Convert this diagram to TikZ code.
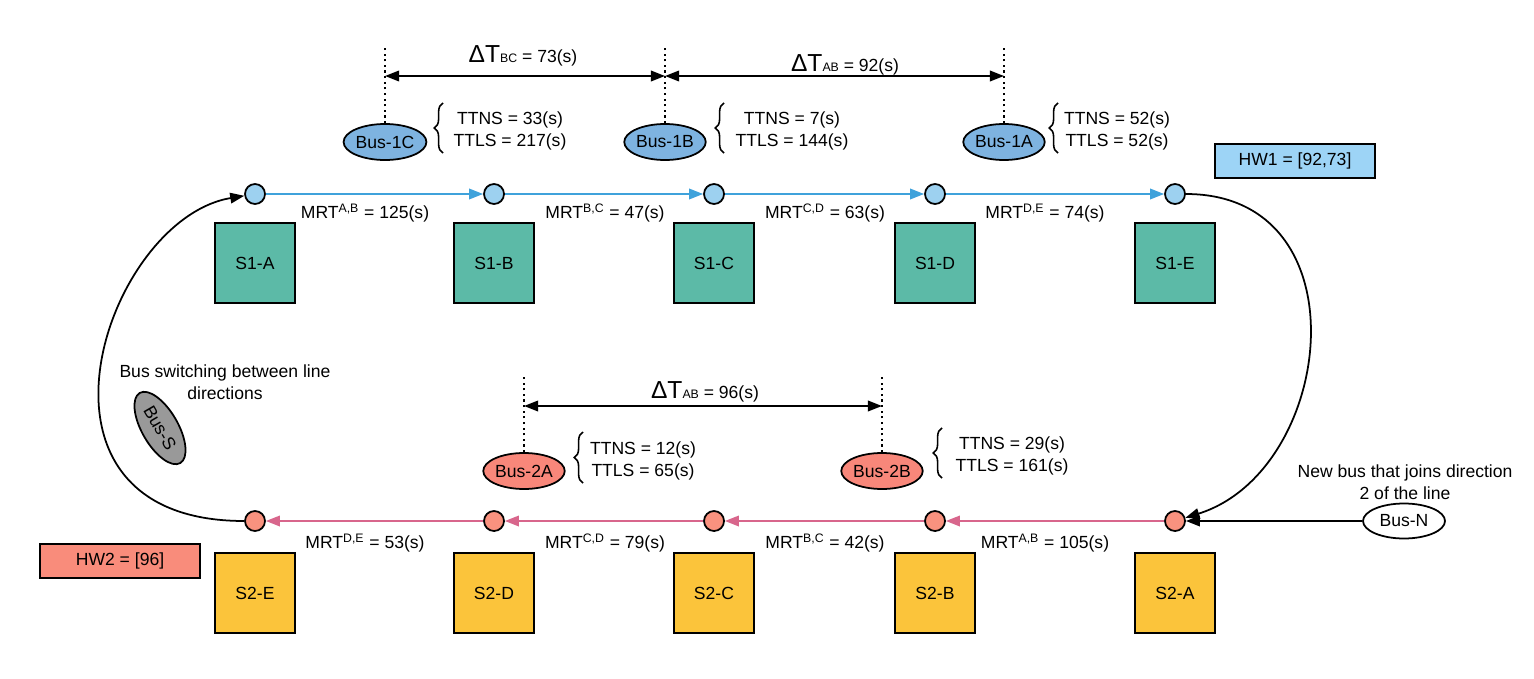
\documentclass[tikz,border=0pt]{standalone}
\usepackage{fontspec}
\setmainfont{Liberation Sans}
\usetikzlibrary{arrows.meta,shapes.geometric,decorations.pathreplacing,positioning}
\definecolor{stopblue}{HTML}{9DD1F0}
\definecolor{lineblue}{HTML}{3FA2DB}
\definecolor{busblue}{HTML}{7EB3E0}
\definecolor{hwblue}{HTML}{9DD4F6}
\definecolor{stationgreen}{HTML}{5CBAA7}
\definecolor{stationyellow}{HTML}{FBC43B}
\definecolor{stopred}{HTML}{F9927F}
\definecolor{linepink}{HTML}{D8668C}
\definecolor{busred}{HTML}{F8877A}
\definecolor{hwred}{HTML}{F98C7B}
\definecolor{busgray}{HTML}{999999}
\begin{document}
\begin{tikzpicture}[x=0.02cm, y=-0.02cm, >={Triangle[length=8pt,width=6pt]},
	every node/.style={font=\fontsize{10}{12.5}\selectfont},
	stopdot/.style={circle, draw, line width=1pt, minimum size=0.4cm, inner sep=0pt},
	stationbox/.style={draw, line width=1.1pt, minimum size=1.6cm, inner sep=0pt},
	busoval/.style={ellipse, draw, line width=1pt, minimum width=1.6cm, minimum height=0.72cm, inner sep=0pt},
	hwbox/.style={draw, line width=1.1pt, minimum width=3.2cm, minimum height=0.68cm, inner sep=0pt},
	gapline/.style={<->, line width=1pt},
	markline/.style={dotted, line width=1.2pt},
	infobrace/.style={decorate, decoration={brace, amplitude=5pt}, line width=0.9pt}]
	\useasboundingbox (0,0) rectangle (1534,679);
	% direction 1
	\node[stopdot, fill=stopblue] (t1A) at (255,194) {};
	\node[stopdot, fill=stopblue] (t1B) at (494,194) {};
	\node[stopdot, fill=stopblue] (t1C) at (714,194) {};
	\node[stopdot, fill=stopblue] (t1D) at (935,194) {};
	\node[stopdot, fill=stopblue] (t1E) at (1175,194) {};
	\draw[->, lineblue, line width=1pt] (t1A) -- (t1B);
	\draw[->, lineblue, line width=1pt] (t1B) -- (t1C);
	\draw[->, lineblue, line width=1pt] (t1C) -- (t1D);
	\draw[->, lineblue, line width=1pt] (t1D) -- (t1E);
	\node (mrt1AB) at (365,213) {MRT\textsuperscript{A,B} = 125(s)};
	\node (mrt1BC) at (605,213) {MRT\textsuperscript{B,C} = 47(s)};
	\node (mrt1CD) at (825,213) {MRT\textsuperscript{C,D} = 63(s)};
	\node (mrt1DE) at (1045,213) {MRT\textsuperscript{D,E} = 74(s)};
	\node[stationbox, fill=stationgreen] (s1A) at (255,263) {S1-A};
	\node[stationbox, fill=stationgreen] (s1B) at (494,263) {S1-B};
	\node[stationbox, fill=stationgreen] (s1C) at (714,263) {S1-C};
	\node[stationbox, fill=stationgreen] (s1D) at (935,263) {S1-D};
	\node[stationbox, fill=stationgreen] (s1E) at (1175,263) {S1-E};
	\node[hwbox, fill=hwblue] (hw1) at (1295,161) {HW1 = [92,73]};
	\node[busoval, fill=busblue] (bus1C) at (385,142) {Bus-1C};
	\node[busoval, fill=busblue] (bus1B) at (665,142) {Bus-1B};
	\node[busoval, fill=busblue] (bus1A) at (1004,142) {Bus-1A};
	\coordinate (top1C) at (385,45);
	\coordinate (top1B) at (665,45);
	\coordinate (top1A) at (1004,45);
	\draw[markline] (bus1C) -- (top1C);
	\draw[markline] (bus1B) -- (top1B);
	\draw[markline] (bus1A) -- (top1A);
	\coordinate (gap1C) at (385,76);
	\coordinate (gap1B) at (665,76);
	\coordinate (gap1A) at (1004,76);
	\draw[gapline] (gap1C) -- (gap1B);
	\draw[gapline] (gap1B) -- (gap1A);
	\node (dt1BC) at (523,56) {{\fontsize{14}{16}\selectfont ΔT}{\fontsize{7}{8}\selectfont BC} = 73(s)};
	\node (dt1AB) at (845,65) {{\fontsize{14}{16}\selectfont ΔT}{\fontsize{7}{8}\selectfont AB} = 92(s)};
	\node[align=center] (info1C) at (510,131) {TTNS = 33(s)\\TTLS = 217(s)};
	\node[align=center] (info1B) at (792,131) {TTNS = 7(s)\\TTLS = 144(s)};
	\node[align=center] (info1A) at (1117,131) {TTNS = 52(s)\\TTLS = 52(s)};
	\draw[infobrace] (443,153) -- (443,103);
	\draw[infobrace] (724,153) -- (724,103);
	\draw[infobrace] (1058,153) -- (1058,103);
	% direction 2
	\node[stopdot, fill=stopred] (b2A) at (1175,521) {};
	\node[stopdot, fill=stopred] (b2B) at (935,521) {};
	\node[stopdot, fill=stopred] (b2C) at (714,521) {};
	\node[stopdot, fill=stopred] (b2D) at (494,521) {};
	\node[stopdot, fill=stopred] (b2E) at (255,521) {};
	\draw[->, linepink, line width=1pt] (b2A) -- (b2B);
	\draw[->, linepink, line width=1pt] (b2B) -- (b2C);
	\draw[->, linepink, line width=1pt] (b2C) -- (b2D);
	\draw[->, linepink, line width=1pt] (b2D) -- (b2E);
	\node (mrt2AB) at (1045,543) {MRT\textsuperscript{A,B} = 105(s)};
	\node (mrt2BC) at (825,543) {MRT\textsuperscript{B,C} = 42(s)};
	\node (mrt2CD) at (605,543) {MRT\textsuperscript{C,D} = 79(s)};
	\node (mrt2DE) at (365,543) {MRT\textsuperscript{D,E} = 53(s)};
	\node[stationbox, fill=stationyellow] (s2A) at (1175,593) {S2-A};
	\node[stationbox, fill=stationyellow] (s2B) at (935,593) {S2-B};
	\node[stationbox, fill=stationyellow] (s2C) at (714,593) {S2-C};
	\node[stationbox, fill=stationyellow] (s2D) at (494,593) {S2-D};
	\node[stationbox, fill=stationyellow] (s2E) at (255,593) {S2-E};
	\node[hwbox, fill=hwred] (hw2) at (120,561) {HW2 = [96]};
	\node[busoval, fill=busred] (bus2A) at (524,471) {Bus-2A};
	\node[busoval, fill=busred] (bus2B) at (882,471) {Bus-2B};
	\coordinate (top2A) at (524,374);
	\coordinate (top2B) at (882,374);
	\draw[markline] (bus2A) -- (top2A);
	\draw[markline] (bus2B) -- (top2B);
	\coordinate (gap2A) at (524,406);
	\coordinate (gap2B) at (882,406);
	\draw[gapline] (gap2A) -- (gap2B);
	\node (dt2AB) at (705,392) {{\fontsize{14}{16}\selectfont ΔT}{\fontsize{7}{8}\selectfont AB} = 96(s)};
	\node[align=center] (info2A) at (643,461) {TTNS = 12(s)\\TTLS = 65(s)};
	\node[align=center] (info2B) at (1012,456) {TTNS = 29(s)\\TTLS = 161(s)};
	\draw[infobrace] (583,483) -- (583,432);
	\draw[infobrace] (942,478) -- (942,428);
	% switching and new bus
	\draw[->, line width=1pt] (t1E.east) .. controls +(180,0) and +(160,-50) .. (b2A);
	\draw[->, line width=1pt] (b2E.west) .. controls +(-240,0) and +(-150,25) .. (t1A);
	\node[align=center] (switchnote) at (225,382) {Bus switching between line\\directions};
	\node[busoval, fill=busgray, rotate=-60, minimum width=1.62cm, minimum height=0.72cm] (busS) at (160,428) {Bus-S};
	\node[align=center] (newnote) at (1405,482) {New bus that joins direction\\2 of the line};
	\node[busoval, fill=white, minimum width=1.64cm, minimum height=0.7cm] (busN) at (1404,521) {Bus-N};
	\draw[->, line width=1pt] (busN) -- (b2A);
\end{tikzpicture}
\end{document}
